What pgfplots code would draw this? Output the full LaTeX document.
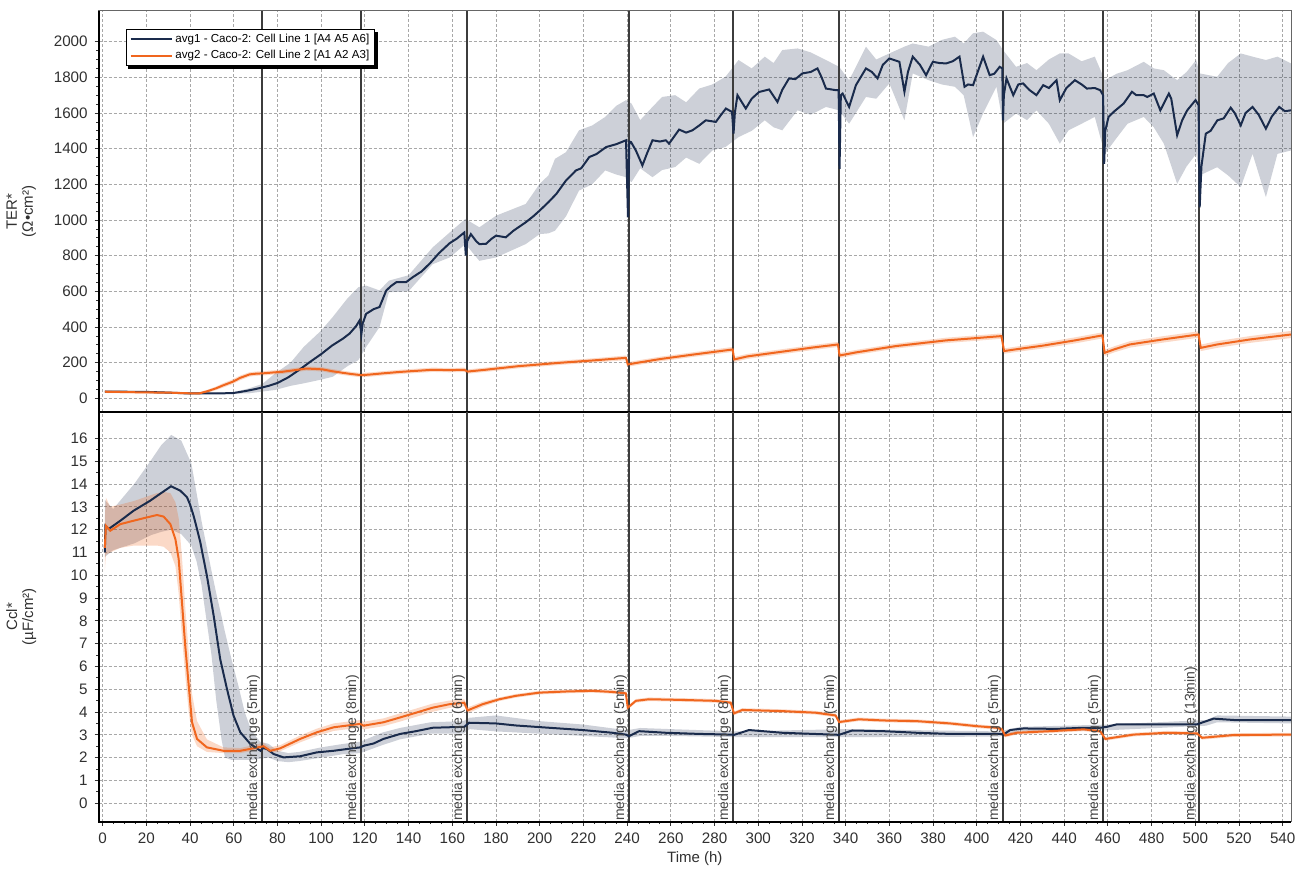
\documentclass[border=0pt]{standalone}
\usepackage{fontspec}
\setmainfont{Liberation Sans}
\usepackage{pgfplots}
\pgfplotsset{compat=1.18}
\usepackage{pgfplotstable}
\usepgfplotslibrary{fillbetween}

\definecolor{navy}{HTML}{1A2B4C}
\definecolor{orng}{HTML}{F0661E}
\definecolor{medline}{HTML}{3C3C3C}
\definecolor{gridc}{HTML}{A8A8A8}
\definecolor{txtc}{HTML}{303030}
\definecolor{lblc}{HTML}{454545}

% ---------------- TOP: TER ----------------
\pgfplotstableread{
x y
1 37
10 37
20 36
30 32
40 27
45 28
50 28
55 28
60 30
65 40
70 52
73 61
76 70
80 86
85 118
90 160
95 205
100 248
105 296
110 335
113 363
116 405
117.6 437
118.4 360
119 420
120.6 474
124 500
126.7 512
129.8 605
132 630
134.4 651
138.9 652
142 680
146 712
150 760
154 815
158.8 870
162 895
165.5 930
166.2 800
166.8 880
168.5 921
171 880
172.4 865
175.4 866
178 895
180 912
184.5 903
188 940
193.6 987
197 1020
200 1053
204 1100
207.6 1146
212 1221
216.6 1278
219 1290
222.7 1353
226 1370
230.4 1409
235 1425
239.5 1447
240.4 1015
241 1440
241.8 1437
244 1390
247 1306
249 1370
251.6 1447
255 1440
257.7 1447
259.2 1428
263.8 1507
267 1490
269.9 1503
273 1530
276 1559
280.6 1550
283 1590
285.2 1625
288 1606
288.7 1484
289.3 1600
290.5 1700
294.3 1625
297 1680
300.4 1718
305 1732
308.8 1662
311 1730
314.1 1794
317 1790
320.2 1822
324 1830
327.1 1850
329 1800
331 1737
335.5 1728
336.8 1729
337.2 1287
337.8 1700
338.6 1709
341.6 1634
344.7 1756
349.3 1850
352 1830
354.6 1794
357 1870
360 1906
364.6 1887
366.9 1719
368.5 1830
370.7 1916
374 1870
376.8 1812
379.9 1887
383 1880
386 1878
389 1890
392.1 1916
394.4 1747
396 1760
398.3 1756
401 1850
402.9 1916
405.9 1812
408 1820
410.5 1859
411.7 1850
412 1559
412.4 1700
413.6 1794
416.7 1700
419 1760
421.2 1766
424 1730
427.3 1700
430.4 1756
433 1740
436.5 1784
438 1672
441 1740
444.9 1784
448 1760
450.4 1737
454 1740
456.5 1728
457.8 1700
458.3 1315
458.8 1500
460.3 1578
463 1610
467.2 1653
471 1719
473 1700
476.4 1700
478 1690
481 1709
484 1615
487.9 1709
489 1680
491.7 1475
494 1560
496.3 1615
500.1 1672
501.5 1644
502 1071
502.8 1300
504.8 1484
507 1500
510.1 1559
513 1570
516.2 1630
518 1600
520.8 1531
523 1600
526.2 1634
529 1590
532.3 1512
535 1580
538.4 1634
541 1610
543.8 1615
}\topNavy

\pgfplotstableread{
x hi lo
1 40 34
20 38 34
40 29 25
60 35 26
67 56 28
73 80 38
79 140 47
86 200 70
92 288 84
100 380 105
105.3 456 121
112 560 180
117 623 214
120.6 632 288
126.7 605 400
131 660 595
140 690 600
151 846 752
158.8 930 790
166 1006 865
172.4 959 771
180 1024 790
193.6 1090 865
200 1203 921
204 1250 925
207 1343 940
212 1380 1020
218 1503 1165
224 1530 1200
230 1578 1278
235 1640 1255
239.5 1672 1240
242 1653 1212
246 1560 1290
251.6 1634 1240
256 1690 1280
262 1700 1297
267 1660 1350
273 1737 1315
279 1760 1390
285 1803 1409
291 1897 1465
297 1850 1500
303 1916 1559
307 1880 1520
311 1953 1503
318 1962 1615
324 1940 1590
331 1897 1634
337 1859 1615
341.6 1784 1540
349.3 1972 1690
354 1900 1680
360 1934 1766
366.9 1972 1559
370.7 1990 1822
378 1972 1784
384 2010 1760
390 2028 1747
394 1990 1700
398.3 2047 1465
402.9 2056 1597
409 2009 1747
412 1953 1540
418 1859 1597
423 1880 1560
427.3 1840 1615
433 1900 1540
438 1934 1428
442 1934 1503
448 1890 1540
454 1916 1578
458.6 1784 1371
464 1820 1460
469 1840 1540
476.4 1887 1578
481 1850 1520
485.6 1840 1428
491.7 1784 1203
496 1830 1300
500.4 1897 1371
502 1822 1250
510 1803 1296
515 1880 1250
520.8 1934 1184
526.2 1916 1371
532.3 1897 1128
537.6 1916 1371
543.8 1878 1390
}\topNavyBand

\pgfplotstableread{
x m hi lo
1 37 45 30
10 35 42 29
20 33 40 27
30 32 38 26
40 28 34 22
44.3 28 35 21
48 40 48 32
51.9 56 66 46
55 72 84 60
59.5 93 106 80
63 115 128 102
67.2 134 146 122
70 138 150 126
73.3 140 152 128
78 145 157 133
82.4 149 161 137
88 158 170 146
93.1 167 179 155
97 165 177 153
100.8 162 174 150
105 152 164 140
109.9 143 155 131
114 136 148 124
118.3 130 142 118
122 133 145 121
128.2 140 152 128
136 148 160 136
143.5 154 166 142
151 160 172 148
158.8 158 170 146
165.5 160 172 148
167 150 162 138
175 160 172 148
190 180 192 168
210 200 212 188
225 213 225 201
239.5 227 240 214
240.3 190 203 177
245 200 213 187
255 220 233 207
270 245 258 232
288.3 274 288 260
289 218 232 204
295 235 249 221
310 260 274 246
325 285 299 271
336.5 302 316 288
337.2 240 254 226
345 258 272 244
363 293 307 279
386 325 340 310
400 338 353 323
411.3 349 364 334
412.5 265 280 250
418 275 290 260
430 295 311 279
445 325 342 308
457.5 353 370 336
458.5 255 272 238
463 275 292 258
470 302 320 284
485 330 348 312
501.5 358 376 340
502.5 283 301 265
510 302 321 283
525 330 349 311
543.8 358 378 338
}\topOrange

% ---------------- BOTTOM: Ccl ----------------
\pgfplotstableread{
x y
1 11.0
1.3 12.17
2.8 12.03
8.1 12.39
14.2 12.83
21.8 13.27
26 13.55
29.5 13.78
31.3 13.9
33.5 13.8
35.5 13.71
38.6 13.42
40 13.1
41.6 12.61
43 12.1
44.7 11.44
47.7 9.98
50.8 8.23
53.8 6.32
56.9 5.01
59.9 3.84
63 3.11
67.6 2.6
72.2 2.3
73.5 2.42
75.2 2.38
78.2 2.16
82.8 2.01
90.4 2.06
98 2.23
105.7 2.3
112 2.38
117.9 2.45
119.4 2.52
124 2.62
128.5 2.82
136.2 3.04
143.4 3.16
151 3.31
158 3.33
165.5 3.35
167.7 3.53
180 3.5
189.1 3.41
204.3 3.31
219.6 3.21
233.3 3.09
239.4 3.01
240.9 2.94
245.5 3.16
257.7 3.09
273 3.04
287.4 3.01
289 3.0
295.8 3.21
311 3.09
333.9 3.01
337 3.0
343 3.19
357.3 3.16
372.5 3.09
387.8 3.04
410.7 3.04
412.2 3.01
415.3 3.21
421.4 3.28
436.6 3.26
448.9 3.31
456.5 3.31
459.5 3.35
464.1 3.46
479.4 3.46
500.8 3.46
503.8 3.56
508.4 3.71
517.6 3.65
543.8 3.65
}\botNavy

\pgfplotstableread{
x hi lo
1 13.3 10.8
4.8 12.9 11.1
14.6 14.02 11.4
22.2 15.05 11.76
26.8 15.7 11.9
31.4 16.15 12.0
36 15.9 11.8
40.6 14.9 11.3
43 13.6 10.6
45.2 12.4 9.6
49.8 10.2 6.5
52 9.2 4.5
54.4 8.2 2.8
56 7.5 2.0
59 6.3 1.9
62 5.2 1.9
65 4.0 1.9
68 3.2 1.9
72 2.7 1.95
76 2.6 2.0
80 2.3 1.85
85 2.2 1.8
90 2.25 1.85
100 2.45 2.0
110 2.6 2.15
118 2.7 2.2
128 3.1 2.55
136 3.3 2.8
150 3.55 3.05
165 3.6 3.05
168 3.75 3.25
180 3.85 3.15
200 3.6 3.05
220 3.45 2.95
240 3.2 2.85
246 3.3 2.95
260 3.25 2.95
290 3.15 2.9
340 3.25 2.9
410 3.15 2.92
420 3.35 3.15
460 3.45 3.2
505 3.65 3.4
510 3.85 3.55
543.8 3.8 3.5
}\botNavyBand

\pgfplotstableread{
x m hi lo
1 11.2 12.5 10.2
1.5 12.17 13.4 10.9
3.5 11.95 13.0 11.0
8.1 12.24 13.1 11.2
14.2 12.39 13.25 11.3
21.8 12.57 13.5 11.3
24.9 12.64 13.6 11.3
27.9 12.57 13.65 11.25
31 12.24 13.6 11.0
33.3 11.58 13.2 10.4
34.8 10.71 12.5 9.2
36.3 8.81 10.8 7.3
37.8 6.91 8.6 5.6
39.4 5.16 6.6 4.0
40.9 3.55 4.8 3.0
43.2 2.82 3.6 2.5
47.7 2.45 2.8 2.25
55.3 2.3 2.45 2.2
63 2.3 2.42 2.2
69.1 2.41 2.55 2.3
73.6 2.5 2.65 2.38
76.7 2.3 2.45 2.2
81.3 2.41 2.55 2.28
90.4 2.82 2.97 2.67
98 3.11 3.27 2.95
105.7 3.33 3.5 3.17
117.9 3.48 3.65 3.32
119.4 3.4 3.57 3.24
128.5 3.55 3.72 3.38
135.7 3.75 3.93 3.57
143.4 3.97 4.15 3.79
151 4.19 4.37 4.01
158.6 4.34 4.5 4.18
165.5 4.41 4.56 4.26
167 4.07 4.2 3.94
173.8 4.34 4.45 4.23
181.5 4.56 4.64 4.48
189.1 4.71 4.79 4.63
199.8 4.85 4.93 4.77
212 4.9 4.98 4.82
224 4.93 5.01 4.85
233.3 4.88 4.96 4.8
239.4 4.82 4.9 4.74
240.3 4.19 4.27 4.11
244 4.49 4.57 4.41
250 4.56 4.64 4.48
265.3 4.53 4.61 4.45
280.5 4.49 4.57 4.41
287.4 4.41 4.49 4.33
288.9 3.94 4.02 3.86
292.7 4.09 4.17 4.01
311 4.04 4.12 3.96
326.3 3.97 4.05 3.89
335.4 3.85 3.93 3.77
337 3.56 3.64 3.48
346 3.68 3.76 3.6
357.3 3.63 3.71 3.55
372.5 3.6 3.68 3.52
387.8 3.5 3.58 3.42
400 3.38 3.46 3.3
409.2 3.31 3.39 3.23
411.5 3.24 3.32 3.16
413 2.97 3.05 2.89
418.3 3.09 3.17 3.01
433.6 3.16 3.24 3.08
448.9 3.24 3.32 3.16
456.5 3.16 3.24 3.08
458.8 2.82 2.9 2.74
471.8 3.01 3.09 2.93
487 3.09 3.17 3.01
500.8 3.06 3.14 2.98
503.1 2.87 2.95 2.79
517.6 2.99 3.07 2.91
543.8 3.01 3.09 2.93
}\botOrange

\pgfplotsset{
 mystyle/.style={
  scale only axis, width=596.15pt,
  xmin=-1.8, xmax=543.8,
  xtick={0,20,...,540}, minor x tick num=3,
  tick align=outside, ytick pos=left, xtick pos=bottom,
  major tick length=2pt, minor tick length=1.2pt,
  tick style={black!80, line width=0.4pt},
  xmajorgrids, ymajorgrids,
  major grid style={gridc, dash pattern=on 1.5pt off 1pt, line width=0.4pt},
  axis line style={draw=black!60, line width=0.5pt},
  tick label style={font=\fontsize{7.6}{9}\selectfont, text=txtc},
  /pgf/number format/assume math mode=true,
  /pgf/number format/1000 sep={},
  label style={font=\fontsize{7.5}{8}\selectfont, text=txtc},
  ylabel style={at={(axis description cs:-0.065,0.5)}, anchor=center, align=center},
  after end axis/.code={\draw[black, line width=1.1pt] (rel axis cs:0,1) -- (rel axis cs:0,0) -- (rel axis cs:1,0);},
 },
}

\begin{document}
\begin{tikzpicture}

% ---------- top axis ----------
\begin{axis}[mystyle,
  at={(49.35pt,228.15pt)}, anchor=south west, height=200.35pt,
  ymin=-75, ymax=2172, ytick={0,200,...,2000}, minor y tick num=3,
  xticklabels={}, xtick style={draw=none},
  ylabel={TER*\\(Ω•cm²)},
  legend cell align=left,
  legend image code/.code={\draw[#1, line width=0.9pt] (0pt,0pt) -- (20.8pt,0pt);},
  legend style={name=leg, at={(0.0229,0.955)}, anchor=north west, draw=black, line width=0.6pt,
    fill=white, font=\fontsize{5.8}{6.5}\selectfont, inner xsep=1.5pt, inner ysep=0.8pt,
    row sep=0.2pt, nodes={inner sep=1.2pt},
    /tikz/every even column/.append style={column sep=1.8pt}},
]
\addplot[draw=none, name path=tnh, forget plot] table[x=x,y=hi]{\topNavyBand};
\addplot[draw=none, name path=tnl, forget plot] table[x=x,y=lo]{\topNavyBand};
\addplot[fill=navy, fill opacity=0.22, draw=none, forget plot] fill between[of=tnh and tnl];
\addplot[draw=none, name path=toh, forget plot] table[x=x,y=hi]{\topOrange};
\addplot[draw=none, name path=tol, forget plot] table[x=x,y=lo]{\topOrange};
\addplot[fill=orng, fill opacity=0.25, draw=none, forget plot] fill between[of=toh and tol];
\pgfplotsinvokeforeach{72.9,118.2,166.7,240.9,288.5,337,412,457.8,501.9}{
  \draw[medline, line width=1pt] (axis cs:#1,-75) -- (axis cs:#1,2172);
}
\addplot[navy, line width=1pt] table[x=x,y=y]{\topNavy};
\addlegendentry{avg1 - Caco-2: Cell Line 1 [A4 A5 A6]}
\addplot[orng, line width=1pt] table[x=x,y=m]{\topOrange};
\addlegendentry{avg2 - Caco-2: Cell Line 2 [A1 A2 A3]}
\end{axis}
% legend shadow (outside strips only)
\fill[black] ([xshift=1.2pt,yshift=-1.6pt]leg.south west) rectangle (leg.south east);
\fill[black] ([yshift=-1.6pt]leg.south east) rectangle ([xshift=1.2pt,yshift=-1.6pt]leg.north east);

% ---------- bottom axis ----------
\begin{axis}[mystyle,
  at={(49.35pt,23.15pt)}, anchor=south west, height=205pt,
  ymin=-0.81, ymax=17.17, ytick={0,1,...,16}, minor y tick num=1,
  ylabel={Ccl*\\(µF/cm²)},
  xlabel={Time (h)},
  xlabel style={at={(axis description cs:0.5,0)}, anchor=base, yshift=-20.5pt},
]
\addplot[draw=none, name path=bnh, forget plot] table[x=x,y=hi]{\botNavyBand};
\addplot[draw=none, name path=bnl, forget plot] table[x=x,y=lo]{\botNavyBand};
\addplot[fill=navy, fill opacity=0.22, draw=none, forget plot] fill between[of=bnh and bnl];
\addplot[draw=none, name path=boh, forget plot] table[x=x,y=hi]{\botOrange};
\addplot[draw=none, name path=bol, forget plot] table[x=x,y=lo]{\botOrange};
\addplot[fill=orng, fill opacity=0.25, draw=none, forget plot] fill between[of=boh and bol];
\pgfplotsinvokeforeach{72.9,118.2,166.7,240.9,288.5,337,412,457.8,501.9}{
  \draw[medline, line width=1pt] (axis cs:#1,-0.81) -- (axis cs:#1,17.17);
}
\addplot[navy, line width=1pt] table[x=x,y=y]{\botNavy};
\addplot[orng, line width=1pt] table[x=x,y=m]{\botOrange};
\tikzset{mex/.style={rotate=90, anchor=south west, font=\fontsize{7}{8}\selectfont, text=lblc, inner sep=0.8pt, xshift=-0.6pt}}
\node[mex] at (axis cs:72.9,-0.81) {media exchange (5min)};
\node[mex] at (axis cs:118.2,-0.81) {media exchange (8min)};
\node[mex] at (axis cs:166.7,-0.81) {media exchange (6min)};
\node[mex] at (axis cs:240.9,-0.81) {media exchange (5min)};
\node[mex] at (axis cs:288.5,-0.81) {media exchange (8min)};
\node[mex] at (axis cs:337,-0.81) {media exchange (5min)};
\node[mex] at (axis cs:412,-0.81) {media exchange (5min)};
\node[mex] at (axis cs:457.8,-0.81) {media exchange (5min)};
\node[mex] at (axis cs:501.9,-0.81) {media exchange (13min)};
\end{axis}
\pgfresetboundingbox
\path (0,0) rectangle (652.5pt,434pt);
\end{tikzpicture}
\end{document}
